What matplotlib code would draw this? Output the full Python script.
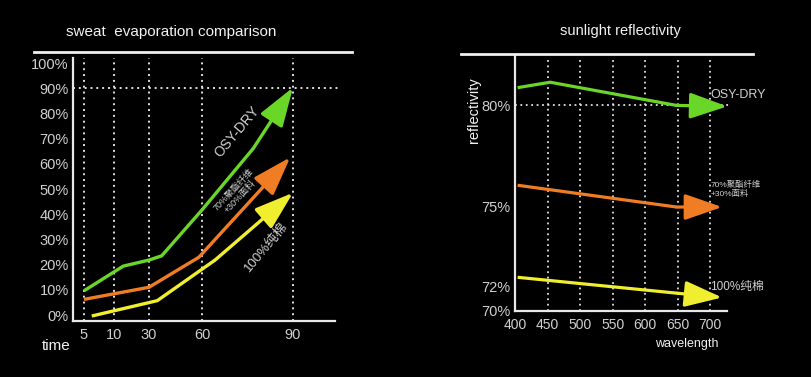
import numpy as np
import matplotlib
matplotlib.use("Agg")
import matplotlib.pyplot as plt
from matplotlib.lines import Line2D

plt.rcParams['font.family'] = ['Liberation Sans', 'Noto Sans CJK SC', 'DejaVu Sans']

GREEN = '#6ad628'
ORANGE = '#f07c24'
YELLOW = '#f0ee2e'
TXT = '#d0d0d0'

# ---- sweat evaporation data ----
time_ticks = [5, 10, 30, 60, 90]
time_slot = [0, 30, 65, 118, 209]        # printed spacing of the time ticks
pct_ticks = list(range(0, 101, 10))

osy_t = [5, 15.3, 30, 37.2, 60, 76.9, 90]
osy_v = [9.6, 19.4, 21.8, 23.5, 41.7, 66.1, 90.3]
blend_t = [5, 30, 58.2, 89.1]
blend_v = [6.2, 11.0, 22.9, 62.6]
cotton_t = [6.3, 34.7, 64.3, 90]
cotton_v = [-0.4, 5.7, 21.8, 48.5]

# ---- sunlight reflectivity data ----
wl_ticks = [400, 450, 500, 550, 600, 650, 700]
refl_ticks = [70, 72, 75, 80]
refl_slot = [0, 24, 104, 205]            # printed spacing of the reflectivity ticks

r_osy_w = [404, 454, 648, 726]
r_osy_v = [80.88, 81.15, 80.0, 79.95]
r_blend_w = [404, 648, 718]
r_blend_v = [76.04, 74.97, 74.97]
r_cotton_w = [404, 650, 718]
r_cotton_v = [72.33, 71.4, 71.05]


def make_scale(ticks, slot, lo_slope, hi_slope):
    kt = [ticks[0] - 1000] + list(ticks) + [ticks[-1] + 1000]
    kp = [slot[0] - 1000 * lo_slope] + list(slot) + [slot[-1] + 1000 * hi_slope]
    fwd = lambda x: np.interp(x, kt, kp)
    inv = lambda p: np.interp(p, kp, kt)
    return fwd, inv


def arrow_line(ax, xs, ys, color, lw, hl, hw):
    ax.plot(xs[:-1], ys[:-1], color=color, lw=lw, solid_capstyle='butt',
            solid_joinstyle='miter', zorder=3)
    ax.annotate('', xy=(xs[-1], ys[-1]), xytext=(xs[-2], ys[-2]),
                arrowprops=dict(arrowstyle='-|>,head_length=%s,head_width=%s' % (hl, hw),
                                color=color, lw=lw, shrinkA=0, shrinkB=0,
                                mutation_scale=10),
                zorder=3)


def style_axes(ax):
    ax.set_facecolor('black')
    for s in ['top', 'right']:
        ax.spines[s].set_visible(False)
    for s in ['left', 'bottom']:
        ax.spines[s].set_color('#e8e8e8')
        ax.spines[s].set_linewidth(1.6)
    ax.tick_params(length=0, colors=TXT)


fig = plt.figure(figsize=(8.12, 3.77), dpi=100, facecolor='black')

# ================= left chart =================
ax1 = fig.add_axes([73 / 812, 1 - 321 / 377, 262 / 812, 263 / 377])
style_axes(ax1)
fwd, inv = make_scale(time_ticks, time_slot, 6.0, 91 / 30)
ax1.set_xscale('function', functions=(fwd, inv))
ax1.set_xlim(3.17, 103.85)
ax1.set_ylim(-2.38, 102)

for t in time_ticks:
    ax1.axvline(t, color='#e0e0e0', lw=1.4, ls=(0, (1, 2)), zorder=1)
ax1.axhline(90, xmax=1.02, color='#e0e0e0', lw=1.4, ls=(0, (1, 2)), zorder=1, clip_on=False)

ax1.set_xticks(time_ticks)
ax1.set_xticklabels([str(t) for t in time_ticks], fontsize=10.5)
ax1.set_yticks(pct_ticks)
ax1.set_yticklabels(['%d%%' % p for p in pct_ticks], fontsize=10.5)
ax1.tick_params(axis='x', pad=5)
ax1.tick_params(axis='y', pad=3)

arrow_line(ax1, osy_t, osy_v, GREEN, 2.4, 2.4, 0.8)
arrow_line(ax1, blend_t, blend_v, ORANGE, 2.4, 2.4, 0.8)
arrow_line(ax1, cotton_t, cotton_v, YELLOW, 2.4, 2.4, 0.8)

ax1.text(71.5, 72.6, 'OSY-DRY', color=TXT, fontsize=10, rotation=50,
         ha='center', va='center')
ax1.text(71.4, 48.3, '70%聚酯纤维\n+30%面料', color=TXT, fontsize=6.5, rotation=47,
         ha='center', va='center', linespacing=1.0)
ax1.text(81.3, 27.1, '100%纯棉', color=TXT, fontsize=9.5, rotation=50,
         ha='center', va='center')

fig.text(171 / 812, 1 - 32 / 377, 'sweat  evaporation comparison', color='#f2f2f2',
         fontsize=11, ha='center', va='center')
fig.text(42 / 812, 1 - 346 / 377, 'time', color='#f2f2f2', fontsize=11,
         ha='left', va='center')
fig.add_artist(Line2D([34 / 812, 352 / 812], [1 - 52 / 377] * 2, color='#f0f0f0', lw=2))

# ================= right chart =================
ax2 = fig.add_axes([515 / 812, 1 - 311 / 377, 212 / 812, 256 / 377])
style_axes(ax2)
fwd2, inv2 = make_scale(refl_ticks, refl_slot, 12.0, 20.2)
ax2.set_yscale('function', functions=(fwd2, inv2))
ax2.set_xlim(400, 725.6)
ax2.set_ylim(69.92, 82.5)

for w in wl_ticks[1:]:
    ax2.axvline(w, ymax=0.99, color='#e0e0e0', lw=1.3, ls=(0, (1, 2)), zorder=1)
ax2.axhline(80, xmax=1.01, color='#e0e0e0', lw=1.3, ls=(0, (1, 2)), zorder=1, clip_on=False)

ax2.set_xticks(wl_ticks)
ax2.set_xticklabels([str(w) for w in wl_ticks], fontsize=10,
                    family=['Liberation Sans Narrow', 'Liberation Sans'])
ax2.set_yticks(refl_ticks)
ax2.set_yticklabels(['%d%%' % r for r in refl_ticks], fontsize=10.5,
                    family=['Liberation Sans Narrow', 'Liberation Sans'])
ax2.tick_params(axis='x', pad=5)
ax2.tick_params(axis='y', pad=3)

arrow_line(ax2, r_osy_w, r_osy_v, GREEN, 2.3, 2.3, 0.8)
arrow_line(ax2, r_blend_w, r_blend_v, ORANGE, 2.3, 2.3, 0.8)
arrow_line(ax2, r_cotton_w, r_cotton_v, YELLOW, 2.3, 2.3, 0.8)

ax2.text(700, 80.5, 'OSY-DRY', color=TXT, fontsize=9, ha='left', va='center',
         clip_on=False)
ax2.text(700, 75.84, '70%聚酯纤维\n+30%面料', color=TXT, fontsize=6, ha='left',
         va='center', linespacing=1.1, clip_on=False)
ax2.text(700, 71.92, '100%纯棉', color=TXT, fontsize=8.5, ha='left', va='center',
         clip_on=False)

fig.text(620 / 812, 1 - 31 / 377, 'sunlight reflectivity', color='#f2f2f2',
         fontsize=10.5, ha='center', va='center')
fig.text(474 / 812, 1 - 110 / 377, 'reflectivity', color='#f2f2f2', fontsize=10.5,
         rotation=90, ha='center', va='center')
fig.text(687 / 812, 1 - 344 / 377, 'wavelength', color='#f2f2f2', fontsize=9,
         ha='center', va='center')
fig.add_artist(Line2D([461 / 812, 753 / 812], [1 - 54 / 377] * 2, color='#f0f0f0', lw=2))

fig.savefig('out.png', dpi=100, facecolor='black')
